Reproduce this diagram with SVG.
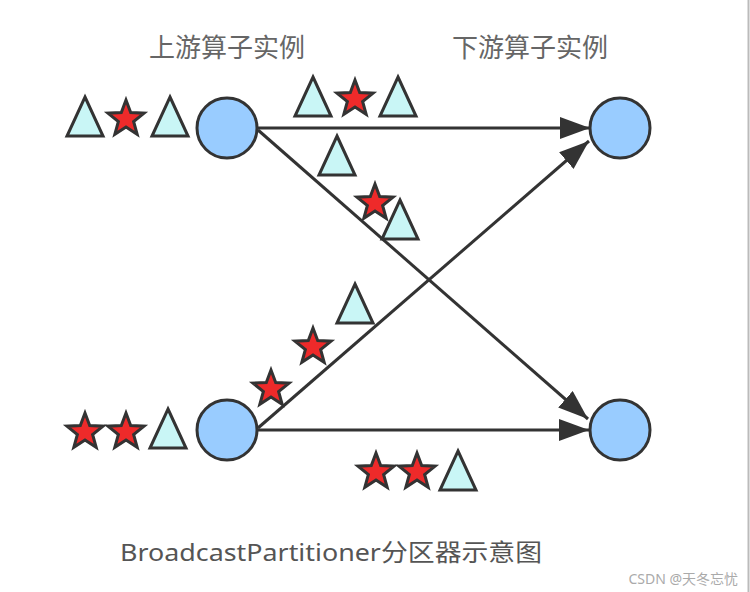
<svg xmlns="http://www.w3.org/2000/svg" xmlns:xlink="http://www.w3.org/1999/xlink" width="750" height="592" viewBox="0 0 750 592">
<style>
.node{fill:#99ccff;stroke:#333;stroke-width:3}
.edge{stroke:#333;stroke-width:3;fill:none}
.tri{fill:#c9f6f6;stroke:#333;stroke-width:3;stroke-linejoin:miter}
.star{fill:#ee2a2a;stroke:#333;stroke-width:3;stroke-linejoin:miter}
.title{font-family:"Noto Sans CJK SC","Noto Sans",sans-serif;font-size:26px;fill:#666}
.caption{font-family:"Noto Sans","Noto Sans CJK SC",sans-serif;font-size:24px;fill:#555}
.wm{font-family:"Noto Sans","Noto Sans CJK SC",sans-serif;font-size:14px;fill:#aaa}
</style>
<defs>
<marker id="arr" markerWidth="30" markerHeight="22" refX="30" refY="11" orient="auto" markerUnits="userSpaceOnUse">
<path d="M0,0 L30,11 L0,22 Z" fill="#333"/>
</marker>
<path id="tri" d="M0,-20 L18,19 L-18,19 Z"/>
<path id="star" d="M0,-19 L4.70,-6.47 L18.07,-5.87 L7.61,2.47 L11.17,15.37 L0,8 L-11.17,15.37 L-7.61,2.47 L-18.07,-5.87 L-4.70,-6.47 Z"/>
</defs>
<rect width="750" height="592" fill="#fff"/>
<line x1="748.5" y1="0" x2="748.5" y2="592" stroke="#bbb" stroke-width="2"/>

<text class="title" x="227" y="57" text-anchor="middle">上游算子实例</text>
<text class="title" x="530" y="57" text-anchor="middle">下游算子实例</text>

<g id="connectors">
<line class="edge" x1="258" y1="128" x2="590" y2="128" marker-end="url(#arr)"/>
<line class="edge" x1="258" y1="130" x2="588" y2="419" marker-end="url(#arr)"/>
<line class="edge" x1="258" y1="428" x2="589" y2="141" marker-end="url(#arr)"/>
<line class="edge" x1="258" y1="430" x2="589" y2="430" marker-end="url(#arr)"/>
</g>

<g id="up1"><circle class="node" cx="227" cy="128" r="30"/></g>
<g id="up2"><circle class="node" cx="227" cy="430" r="30"/></g>
<g id="down1"><circle class="node" cx="620" cy="128" r="30"/></g>
<g id="down2"><circle class="node" cx="620" cy="430" r="30"/></g>

<g id="packets-up1">
<use href="#tri" class="tri" x="85" y="117"/>
<use href="#star" class="star" x="126" y="119"/>
<use href="#tri" class="tri" x="170" y="117"/>
</g>
<g id="packets-top">
<use href="#tri" class="tri" x="313" y="97"/>
<use href="#star" class="star" x="355" y="99"/>
<use href="#tri" class="tri" x="398" y="97"/>
</g>
<g id="packets-diag1">
<use href="#tri" class="tri" x="337" y="156"/>
<use href="#star" class="star" x="375" y="203"/>
<use href="#tri" class="tri" x="400" y="220"/>
</g>
<g id="packets-diag2">
<use href="#star" class="star" x="271" y="389"/>
<use href="#star" class="star" x="313" y="347"/>
<use href="#tri" class="tri" x="355" y="304"/>
</g>
<g id="packets-up2">
<use href="#star" class="star" x="85" y="432"/>
<use href="#star" class="star" x="126" y="432"/>
<use href="#tri" class="tri" x="168" y="429"/>
</g>
<g id="packets-bottom">
<use href="#star" class="star" x="376" y="472"/>
<use href="#star" class="star" x="417" y="472"/>
<use href="#tri" class="tri" x="458" y="471"/>
</g>

<text class="caption" x="331" y="561" text-anchor="middle" textLength="422" lengthAdjust="spacingAndGlyphs">BroadcastPartitioner分区器示意图</text>
<text class="wm" x="738" y="584" text-anchor="end">CSDN @天冬忘忧</text>
</svg>
